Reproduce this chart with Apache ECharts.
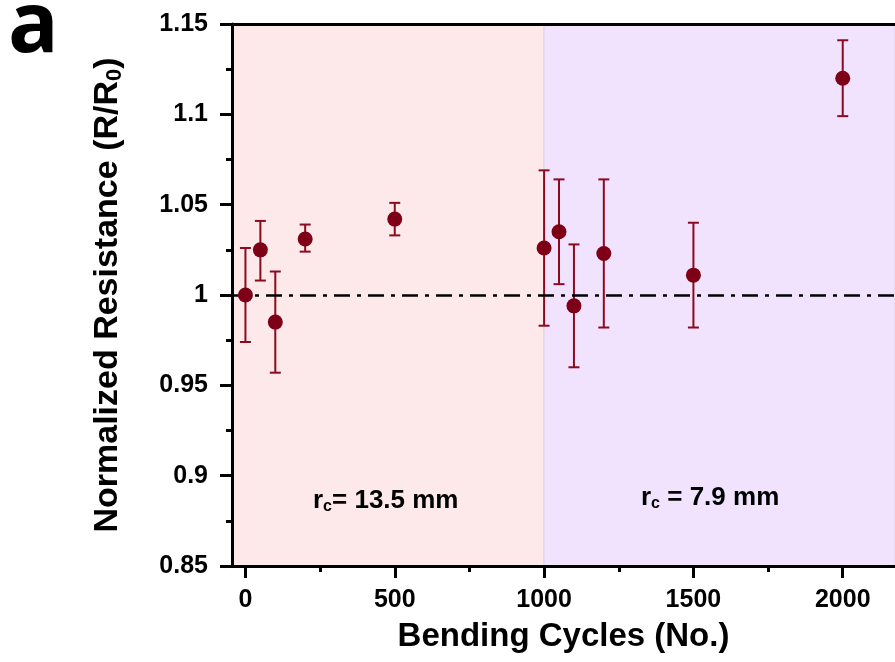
<!DOCTYPE html>
<html>
<head>
<meta charset="utf-8">
<script src="https://cdn.jsdelivr.net/npm/echarts@6/dist/echarts.min.js"></script>
<style>
html,body{margin:0;padding:0;background:#fff;}
#chart{width:895px;height:662px;}
</style>
</head>
<body>
<div id="chart"></div>
<script>
// ---- data ----
var cycles     = [0, 50, 100, 200, 500, 1000, 1050, 1100, 1200, 1500, 2000];
var resistance = [1.000, 1.025, 0.985, 1.031, 1.042, 1.026, 1.035, 0.994, 1.023, 1.011, 1.120];
var errLow     = [0.974, 1.008, 0.957, 1.024, 1.033, 0.983, 1.006, 0.960, 0.982, 0.982, 1.099];
var errHigh    = [1.026, 1.041, 1.013, 1.039, 1.051, 1.069, 1.064, 1.028, 1.064, 1.040, 1.141];
var xMajorTicks = [0, 500, 1000, 1500, 2000];
var xMinorTicks = [250, 750, 1250, 1750];
var regionSplit = 1000;
var referenceLevel = 1;
var regionLabels = ['13.5 mm', '7.9 mm'];

var FONT = '"Liberation Sans", Arial, sans-serif';
var markerColor = '#7e0016';
var errColor = '#8c0a20';

var chart = echarts.init(document.getElementById('chart'), null, {renderer: 'canvas'});

var scatterData = cycles.map(function (c, i) { return [c, resistance[i]]; });
var errData = cycles.map(function (c, i) { return [c, errLow[i], errHigh[i]]; });

var axisCommon = {
  type: 'value', min: -45, max: 2175
};

var option = {
  animation: false,
  backgroundColor: '#ffffff',
  grid: {left: 232, right: 0, top: 24, bottom: 96},
  xAxis: [
    Object.assign({}, axisCommon, {
      position: 'bottom',
      z: 10,
      name: 'Bending Cycles (No.)',
      nameLocation: 'middle',
      nameGap: 54,
      nameTextStyle: {fontFamily: FONT, fontWeight: 'bold', fontSize: 33, color: '#000'},
      axisLine: {show: true, onZero: false, lineStyle: {color: '#000', width: 3}},
      axisTick: {show: true, inside: false, length: 12, lineStyle: {color: '#000', width: 3}, customValues: xMajorTicks},
      axisLabel: {show: true, margin: 22, fontFamily: FONT, fontWeight: 'bold', fontSize: 25, color: '#000', customValues: xMajorTicks,
        formatter: function (v) { return String(v); }},
      splitLine: {show: false}
    }),
    Object.assign({}, axisCommon, {
      position: 'bottom',
      z: 10,
      axisLine: {show: false, onZero: false},
      axisTick: {show: true, inside: false, length: 6, lineStyle: {color: '#000', width: 3}, customValues: xMinorTicks},
      axisLabel: {show: false, customValues: xMinorTicks},
      splitLine: {show: false}
    }),
    Object.assign({}, axisCommon, {
      position: 'top',
      z: 10,
      axisLine: {show: true, onZero: false, lineStyle: {color: '#000', width: 3}},
      axisTick: {show: false},
      axisLabel: {show: false},
      splitLine: {show: false}
    })
  ],
  yAxis: {
    type: 'value', min: 0.85, max: 1.15, interval: 0.05,
    z: 10,
    name: '{a|Normalized Resistance (R/R}{s|0}{a|)}',
    nameLocation: 'middle',
    nameGap: 104,
    nameRotate: 90,
    nameTextStyle: {
      fontFamily: FONT, fontWeight: 'bold', fontSize: 34, color: '#000',
      rich: {
        a: {fontFamily: FONT, fontWeight: 'bold', fontSize: 34, color: '#000', lineHeight: 40},
        s: {fontFamily: FONT, fontWeight: 'bold', fontSize: 22, color: '#000', lineHeight: 40, padding: [14, 0, 0, 0]}
      }
    },
    axisLine: {show: true, onZero: false, lineStyle: {color: '#000', width: 3}},
    axisTick: {show: true, inside: false, length: 12, lineStyle: {color: '#000', width: 3}},
    minorTick: {show: true, splitNumber: 2, length: 6, lineStyle: {color: '#000', width: 3}},
    axisLabel: {
      margin: 24, fontFamily: FONT, fontWeight: 'bold', fontSize: 25, color: '#000',
      formatter: function (v) { return String(parseFloat(v.toFixed(2))); }
    },
    splitLine: {show: false},
    minorSplitLine: {show: false}
  },
  series: [
    {
      type: 'scatter',
      xAxisIndex: 0,
      data: [],
      silent: true,
      markArea: {
        silent: true,
        itemStyle: {borderWidth: 1, borderColor: 'rgba(0,0,0,0.08)'},
        data: [
          [{xAxis: 'min', itemStyle: {color: '#fde9e9'}}, {xAxis: regionSplit}],
          [{xAxis: regionSplit, itemStyle: {color: '#f1e3fd'}}, {xAxis: 'max'}]
        ]
      },
      markLine: {
        silent: true,
        symbol: 'none',
        label: {show: false},
        lineStyle: {color: '#000', width: 2.5, type: [16, 7, 4, 7]},
        data: [{yAxis: referenceLevel}]
      }
    },
    {
      type: 'custom',
      xAxisIndex: 0,
      data: errData,
      z: 3,
      renderItem: function (params, api) {
        var x = api.value(0);
        var lo = api.coord([x, api.value(1)]);
        var hi = api.coord([x, api.value(2)]);
        var hw = 5.5;
        var st = {stroke: errColor, lineWidth: 2};
        return {
          type: 'group',
          children: [
            {type: 'line', shape: {x1: lo[0], y1: lo[1], x2: hi[0], y2: hi[1]}, style: st},
            {type: 'line', shape: {x1: lo[0] - hw, y1: lo[1], x2: lo[0] + hw, y2: lo[1]}, style: st},
            {type: 'line', shape: {x1: hi[0] - hw, y1: hi[1], x2: hi[0] + hw, y2: hi[1]}, style: st}
          ]
        };
      }
    },
    {
      type: 'scatter',
      xAxisIndex: 0,
      data: scatterData,
      symbol: 'circle',
      symbolSize: 15,
      z: 5,
      itemStyle: {color: markerColor, opacity: 1}
    }
  ],
  graphic: [
    {
      type: 'text', left: 8, top: -14, z: 100,
      style: {text: 'a', fontFamily: '"Open Sans", sans-serif', fontWeight: 'bold', fontSize: 84, fill: '#000'}
    },
    {
      type: 'text', left: 313, top: 487, z: 100,
      style: {
        text: '{a|r}{s|c}{a|= ' + regionLabels[0] + '}',
        rich: {
          a: {fontFamily: FONT, fontWeight: 'bold', fontSize: 26, fill: '#000', lineHeight: 30},
          s: {fontFamily: FONT, fontWeight: 'bold', fontSize: 16, fill: '#000', lineHeight: 30, padding: [12, 0, 0, 0]}
        }
      }
    },
    {
      type: 'text', left: 641, top: 484, z: 100,
      style: {
        text: '{a|r}{s|c}{a| = ' + regionLabels[1] + '}',
        rich: {
          a: {fontFamily: FONT, fontWeight: 'bold', fontSize: 26, fill: '#000', lineHeight: 30},
          s: {fontFamily: FONT, fontWeight: 'bold', fontSize: 16, fill: '#000', lineHeight: 30, padding: [12, 0, 0, 0]}
        }
      }
    }
  ]
};

chart.setOption(option);
</script>
</body>
</html>
